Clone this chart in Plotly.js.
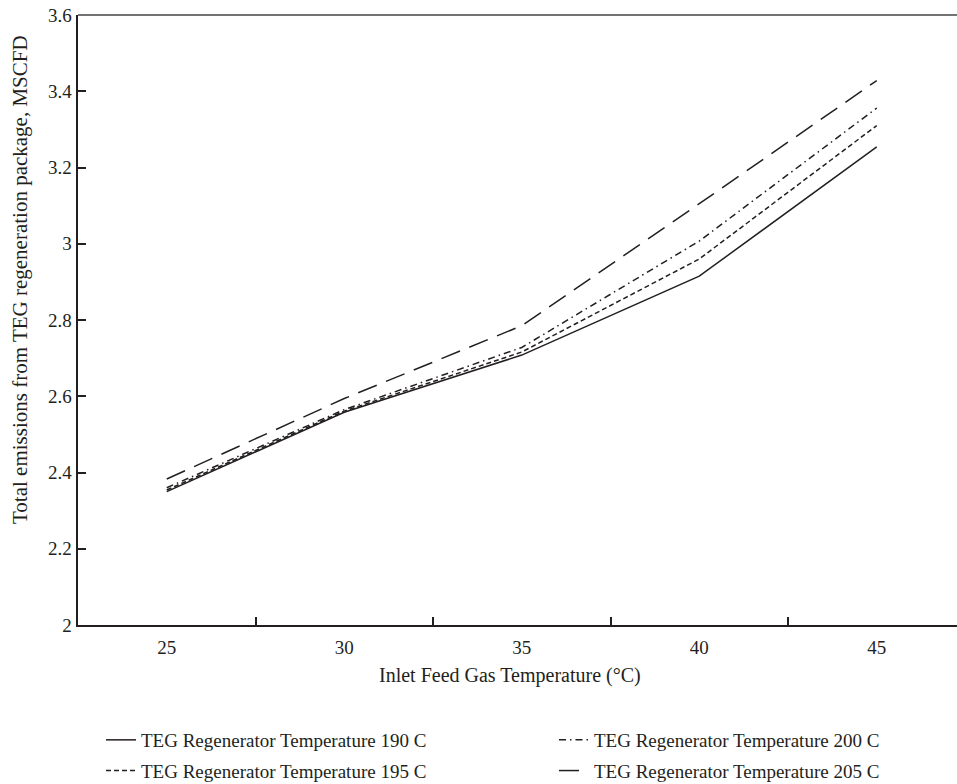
<!DOCTYPE html>
<html>
<head>
<meta charset="utf-8">
<script src="https://cdn.plot.ly/plotly-3.0.1.min.js"></script>
<style>html,body{margin:0;padding:0;background:#fff;}#chart{width:957px;height:784px;}</style>
</head>
<body>
<div id="chart"></div>
<script>
const inletTemps = [25, 30, 35, 40, 45];
const regen190 = [2.350, 2.558, 2.708, 2.915, 3.254];
const regen195 = [2.354, 2.561, 2.716, 2.960, 3.310];
const regen200 = [2.360, 2.565, 2.728, 3.007, 3.356];
const regen205 = [2.383, 2.594, 2.785, 3.105, 3.428];
const seriesNames = [
  'TEG Regenerator Temperature 190 C',
  'TEG Regenerator Temperature 195 C',
  'TEG Regenerator Temperature 200 C',
  'TEG Regenerator Temperature 205 C'
];
const xTickLabels = ['25', '30', '35', '40', '45'];
const xBinEdges = [27.5, 32.5, 37.5, 42.5];
const xTitle = 'Inlet Feed Gas Temperature (°C)';
const yTitle = 'Total emissions from TEG regeneration package, MSCFD';

const FONT = '"Liberation Serif", serif';
const INK = '#231f20';

const traces = [
  {x: inletTemps, y: regen190, name: seriesNames[0], mode: 'lines', legend: 'legend', legendgroup: 'a',
   line: {color: INK, width: 1.5, dash: 'solid'}},
  {x: inletTemps, y: regen195, name: seriesNames[1], mode: 'lines', legend: 'legend', legendgroup: 'b',
   line: {color: INK, width: 1.5, dash: '5px,3px'}},
  {x: inletTemps, y: regen200, name: seriesNames[2], mode: 'lines', legend: 'legend2', legendgroup: 'c',
   line: {color: INK, width: 1.5, dash: '7px,4px,1.5px,4px'}},
  {x: inletTemps, y: regen205, name: seriesNames[3], mode: 'lines', legend: 'legend2', legendgroup: 'd',
   line: {color: INK, width: 1.5, dash: '20px,10px'}},
  {x: inletTemps, y: regen190, xaxis: 'x2', mode: 'lines', showlegend: false, hoverinfo: 'skip',
   line: {color: 'rgba(0,0,0,0)', width: 0}}
];

const xRange = [22.5, 22.5 + (957 - 78) / 177.5 * 5];

const layout = {
  width: 957, height: 784,
  margin: {l: 78, r: 0, t: 15, b: 159, autoexpand: false},
  paper_bgcolor: '#fff', plot_bgcolor: '#fff',
  font: {family: FONT, size: 18, color: INK},
  showlegend: true,
  xaxis: {
    range: xRange, tickvals: inletTemps, ticktext: xTickLabels,
    ticks: '', showgrid: false, zeroline: false, automargin: false,
    showline: true, linecolor: INK, linewidth: 2, ticklabelstandoff: 4,
    tickfont: {family: FONT, size: 19, color: INK}
  },
  xaxis2: {
    overlaying: 'x', anchor: 'y', side: 'bottom', range: xRange, automargin: false,
    tickvals: xBinEdges, ticks: 'inside', ticklen: 8, tickwidth: 2, tickcolor: INK,
    showticklabels: false, showgrid: false, zeroline: false, showline: false
  },
  yaxis: {
    range: [2, 3.6], dtick: 0.2, tick0: 2, automargin: false,
    ticks: 'inside', ticklen: 8, tickwidth: 2, tickcolor: INK,
    showgrid: false, zeroline: false, showline: true, linecolor: INK, linewidth: 2.5,
    tickfont: {family: FONT, size: 19, color: INK}
  },
  annotations: [
    {text: xTitle, xref: 'paper', yref: 'paper', x: (510 - 78) / 879, y: 0,
     xanchor: 'center', yanchor: 'middle', yshift: -50, showarrow: false,
     font: {family: FONT, size: 20, color: INK}},
    {text: yTitle, xref: 'paper', yref: 'paper', x: 0, y: (625 - 280) / 610, textangle: -90,
     xanchor: 'center', yanchor: 'middle', xshift: -58, showarrow: false,
     font: {family: FONT, size: 21, color: INK}}
  ],
  shapes: [
    {type: 'line', xref: 'paper', yref: 'paper', x0: 0, x1: 1, y0: 1, y1: 1,
     line: {color: '#444', width: 1.5}}
  ],
  legend: {
    xref: 'container', yref: 'container', x: 101 / 957, y: 1 - 721 / 784,
    xanchor: 'left', yanchor: 'top', orientation: 'v',
    font: {family: FONT, size: 19, color: INK}, bgcolor: 'rgba(0,0,0,0)',
    tracegroupgap: 3, itemwidth: 30
  },
  legend2: {
    xref: 'container', yref: 'container', x: 554 / 957, y: 1 - 721 / 784,
    xanchor: 'left', yanchor: 'top', orientation: 'v',
    font: {family: FONT, size: 19, color: INK}, bgcolor: 'rgba(0,0,0,0)',
    tracegroupgap: 3, itemwidth: 30
  }
};

Plotly.newPlot('chart', traces, layout, {displayModeBar: false, staticPlot: true});
</script>
</body>
</html>
